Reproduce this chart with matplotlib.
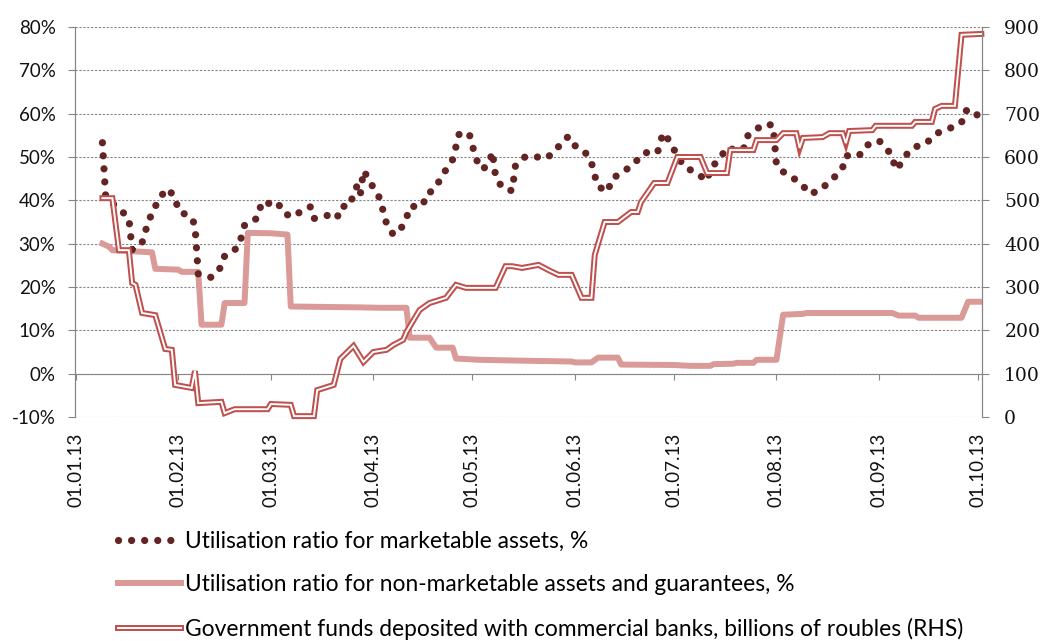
import matplotlib
matplotlib.use('Agg')
import matplotlib.pyplot as plt
import matplotlib.dates as mdates
from matplotlib.ticker import FuncFormatter, MultipleLocator
from datetime import datetime

plt.rcParams['font.family'] = ['Lato', 'DejaVu Sans']
plt.rcParams['font.size'] = 13.5

# days are counted from 1 Jan 2013
mkt_days = [8, 9, 14, 16, 17, 20, 21, 22, 23, 25, 27, 28, 30, 31, 35, 36, 37, 41, 44, 45,
            49, 50, 51, 52, 55, 56, 57, 59, 61, 63, 66, 69, 71, 72, 76, 79, 80, 83, 84, 85,
            86, 87, 88, 90, 92, 93, 94, 96, 98, 100, 101, 105, 106, 108, 110, 112, 114, 116, 119, 120,
            121, 123, 125, 126, 127, 129, 132, 133, 136, 139, 142, 145, 147, 149, 150, 154, 156, 157, 158, 161,
            162, 165, 168, 170, 172, 176, 177, 178, 180, 182, 184, 188, 191, 192, 195, 197, 199, 202, 203, 206,
            209, 211, 212, 214, 217, 220, 222, 225, 227, 230, 232, 233, 237, 239, 243, 245, 247, 248, 249, 251,
            254, 256, 259, 261, 265, 268, 269, 272, 274]
mkt_pct = [53.3, 40.6, 37.4, 35.8, 28.6, 30.2, 33.0, 34.6, 37.6, 39.7, 42.5, 42.5, 40.6, 37.6, 36.0, 34.2, 23.0, 22.2, 24.7, 27.2,
           29.1, 31.4, 34.2, 34.4, 36.0, 39.0, 39.9, 39.0, 39.5, 36.9, 36.2, 38.1, 38.5, 35.8, 36.5, 35.8, 38.5, 38.8, 41.8, 43.2,
           41.1, 46.8, 45.7, 42.9, 40.4, 37.4, 34.6, 32.1, 33.0, 35.8, 38.5, 38.8, 41.5, 42.2, 44.5, 47.1, 49.4, 55.4, 55.4, 52.6,
           49.6, 47.1, 48.5, 51.2, 45.5, 42.9, 42.2, 48.0, 50.1, 50.1, 49.6, 51.2, 53.5, 54.7, 53.1, 51.2, 48.7, 45.7, 43.2, 42.0,
           44.8, 46.4, 47.8, 49.4, 51.0, 51.0, 54.0, 55.6, 53.1, 50.3, 47.8, 46.2, 44.5, 47.3, 49.8, 52.2, 51.7, 51.7, 54.7, 56.5,
           57.7, 57.2, 48.2, 46.6, 45.2, 43.4, 41.5, 42.2, 43.6, 45.7, 47.5, 50.3, 50.3, 52.6, 53.8, 52.2, 50.3, 47.1, 47.8, 50.3,
           52.4, 52.6, 54.2, 55.6, 56.8, 57.9, 60.7, 60.7, 57.9]

nonmkt_days = [8, 10, 11, 23, 24, 31, 32, 37, 38, 44, 45, 51, 52, 59, 64, 65, 86, 92, 100, 101,
               107, 109, 114, 115, 122, 135, 150, 151, 156, 158, 164, 165, 181, 186, 192, 193, 199, 200, 205, 206,
               212, 214, 220, 221, 247, 249, 254, 255, 268, 270, 274]
nonmkt_pct = [30.0, 29.3, 28.5, 28.0, 24.2, 24.0, 23.5, 23.5, 11.3, 11.3, 16.3, 16.3, 32.5, 32.4, 32.1, 15.5, 15.3, 15.2, 15.2, 8.3,
              8.3, 6.0, 6.0, 3.5, 3.2, 3.0, 2.8, 2.6, 2.6, 3.7, 3.7, 2.1, 2.0, 1.8, 1.8, 2.2, 2.3, 2.5, 2.5, 3.2,
              3.2, 13.6, 13.8, 14.0, 14.0, 13.4, 13.4, 12.9, 12.9, 16.6, 16.6]

gov_days = [8, 11, 13, 16, 17, 18, 20, 24, 27, 29, 30, 35, 36, 37, 44, 45, 48, 58, 59, 65,
            66, 72, 73, 78, 80, 84, 87, 90, 94, 96, 99, 100, 104, 107, 112, 115, 118, 127, 130, 132,
            135, 140, 143, 146, 150, 153, 156, 157, 160, 164, 168, 170, 171, 175, 179, 182, 189, 191, 197, 198,
            205, 206, 212, 214, 218, 219, 220, 226, 228, 232, 233, 234, 241, 242, 253, 254, 259, 260, 262, 266,
            268, 274]
gov_bn = [505, 505, 385, 385, 309, 305, 240, 235, 157, 155, 74, 67, 106, 32, 35, 9, 18, 18, 30, 28,
          2, 2, 62, 74, 134, 164, 127, 150, 155, 166, 178, 196, 247, 263, 275, 305, 298, 298, 348, 348,
          344, 351, 339, 328, 328, 275, 275, 374, 450, 450, 473, 473, 496, 540, 540, 600, 600, 563, 563, 616,
          616, 639, 639, 655, 655, 621, 644, 646, 655, 655, 632, 660, 662, 672, 672, 681, 681, 711, 718, 718,
          882, 884]

labels = ['Utilisation ratio for marketable assets, %',
          'Utilisation ratio for non-marketable assets and guarantees, %',
          'Government funds deposited with commercial banks, billions of roubles (RHS)']

start = mdates.date2num(datetime(2013, 1, 1))
month_ticks = [mdates.date2num(datetime(2013, m, 1)) for m in range(1, 11)]

def to_x(days):
    return [start + d for d in days]

grey = '#868686'
dark = '#632523'
pink = '#d99a98'
red = '#c0504d'

fig = plt.figure(figsize=(10.42, 6.41), dpi=100)
ax = fig.add_axes([75 / 1042, 1 - 417 / 641, 907 / 1042, 390 / 641])
ax2 = ax.twinx()

l_pink, = ax.plot(to_x(nonmkt_days), nonmkt_pct, color=pink, lw=4.3,
                  solid_joinstyle='round', zorder=3)
l_dots, = ax.plot(to_x(mkt_days), mkt_pct, color=dark, lw=5.2,
                  linestyle=(0, (0.01, 1.8)), dash_capstyle='round', zorder=4)
l_red, = ax2.plot(to_x(gov_days), gov_bn, color=red, lw=4.3, solid_joinstyle='miter', clip_on=False)
l_white, = ax2.plot(to_x(gov_days), gov_bn, color='white', lw=1.4, solid_joinstyle='miter', clip_on=False)

ax.set_xlim(start - 0.3, start + 274.2)
ax.set_ylim(-10, 80)
ax2.set_ylim(0, 900)

ax.yaxis.set_major_locator(MultipleLocator(10))
ax.yaxis.set_major_formatter(FuncFormatter(lambda v, p: f'{v:.0f}%'))
ax.yaxis.grid(True, color=grey, lw=0.8, linestyle=(0, (2, 1.5)))
ax.set_axisbelow(True)

ax.set_xticks(month_ticks)
ax.xaxis.set_major_formatter(mdates.DateFormatter('%d.%m.%y'))
ax.tick_params(axis='x', length=0, pad=11, rotation=90, labelcolor='#111111')
ax.tick_params(axis='y', length=5, color=grey, pad=9, labelcolor='#111111')

ax2.yaxis.set_major_locator(MultipleLocator(100))
ax2.tick_params(axis='y', length=5, color=grey, pad=11, labelcolor='#111111')
for t in ax2.get_yticklabels():
    t.set_family(['DejaVu Serif'])
    t.set_fontsize(13.5)

for a in (ax, ax2):
    a.spines['top'].set_visible(False)
    a.spines['bottom'].set_visible(False)
    a.spines['left'].set_color(grey)
    a.spines['right'].set_color(grey)

# axis line at 0 % with month ticks
sec = ax.secondary_xaxis(10 / 90)
sec.set_xticks(month_ticks)
sec.spines['bottom'].set_color(grey)
sec.tick_params(axis='x', length=4, color=grey, labelbottom=False)

fig.legend([l_dots, l_pink, (l_red, l_white)], labels,
           loc='upper left', bbox_to_anchor=(118 / 1042, 1 - 531 / 641),
           frameon=False, fontsize=16.4, handlelength=2.75, handletextpad=0.2,
           labelspacing=0.98, borderpad=0, borderaxespad=0)

fig.savefig('out.png', dpi=100)
